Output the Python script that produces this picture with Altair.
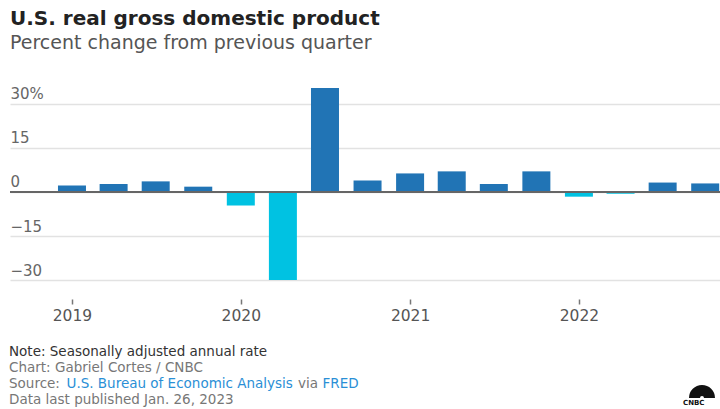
import altair as alt
import pandas as pd

# ---- data ----
quarters = ["2019-01-01", "2019-04-01", "2019-07-01", "2019-10-01",
            "2020-01-01", "2020-04-01", "2020-07-01", "2020-10-01",
            "2021-01-01", "2021-04-01", "2021-07-01", "2021-10-01",
            "2022-01-01", "2022-04-01", "2022-07-01", "2022-10-01"]
gdp_change = [2.2, 2.7, 3.6, 1.8, -4.6, -29.9, 35.3, 3.9,
              6.3, 7.0, 2.7, 7.0, -1.6, -0.6, 3.2, 2.9]
year_ticks = [2019, 2020, 2021, 2022]
y_ticks = [-30, -15, 0, 15, 30]

df = pd.DataFrame({"quarter": quarters, "gdp": gdp_change})

FONT = "DejaVu Sans"
BLUE = "#2174b5"
CYAN = "#00c2e2"
W, H = 710, 209
LEFT, TOP = 10, 86

x_enc = alt.X(
    "quarter:T",
    scale=alt.Scale(type="utc", padding=0,
                    domain=[alt.DateTime(year=2018, month=8, date=20, utc=True),
                            alt.DateTime(year=2022, month=11, date=2, utc=True)]),
    axis=alt.Axis(values=[alt.DateTime(year=y, month=1, date=1, utc=True) for y in year_ticks],
                  format="%Y", title=None, domain=False, grid=False,
                  tickColor="#777", tickSize=5, tickWidth=1.5, offset=4,
                  labelPadding=4, labelFontSize=15.5, labelColor="#555",
                  labelFont=FONT, labelFlush=False),
)
y_enc = alt.Y(
    "gdp:Q",
    scale=alt.Scale(domain=[-35, 36], nice=False, zero=False),
    axis=alt.Axis(values=y_ticks, title=None, domain=False, ticks=False,
                  labelAlign="left", labelBaseline="bottom", labelPadding=0,
                  labelOffset=-2,
                  labelExpr="datum.value == 30 ? '30%' : datum.label",
                  gridColor="#e2e2e2", gridWidth=1.5, labelFontSize=15,
                  labelColor="#666", labelFont=FONT),
)

bars = alt.Chart(df).mark_bar(size=28).encode(
    x=x_enc,
    y=y_enc,
    y2=alt.datum(0),
    color=alt.condition(alt.datum.gdp < 0, alt.value(CYAN), alt.value(BLUE)),
)

zero = alt.Chart(alt.Data(values=[{}])).mark_rule(color="#666", strokeWidth=2).encode(
    y=alt.datum(0)
)


def txt(s, x, y, size=13, color="#666", weight="normal"):
    return alt.Chart(alt.Data(values=[{}])).mark_text(
        align="left", baseline="alphabetic", font=FONT, fontSize=size,
        color=color, fontWeight=weight
    ).encode(x=alt.value(x - LEFT), y=alt.value(y - TOP), text=alt.value(s))


LINK = "#2a8fd6"
FS = 13.5
texts = [
    txt("U.S. real gross domestic product", 10, 25, size=20, color="#222", weight="bold"),
    txt("Percent change from previous quarter", 10, 49, size=19, color="#555"),
    txt("Note: Seasonally adjusted annual rate", 9, 356, size=FS, color="#333"),
    txt("Chart: Gabriel Cortes / CNBC", 9, 372, size=FS, color="#777"),
    txt("Source:", 9, 388, size=FS, color="#777"),
    txt("U.S. Bureau of Economic Analysis", 66.5, 388, size=FS, color=LINK),
    txt("via", 298, 388, size=FS, color="#777"),
    txt("FRED", 322.5, 388, size=FS, color=LINK),
    txt("Data last published Jan. 26, 2023", 9, 404, size=FS, color="#777"),
    txt("CNBC", 683, 405, size=7, color="#111", weight="bold"),
]

logo = alt.Chart(alt.Data(values=[{}])).mark_arc(
    color="#111", theta=4.71, theta2=7.85, radius=13, innerRadius=2
).encode(x=alt.value(702 - LEFT), y=alt.value(398 - TOP))

chart = alt.layer(bars, zero, *texts, logo).properties(
    width=W, height=H,
    autosize=alt.AutoSizeParams(type="none"),
    padding={"left": LEFT, "top": TOP, "right": 720 - LEFT - W, "bottom": 409 - TOP - H},
).configure_view(stroke=None)

chart.save("out.html", embed_options={"renderer": "svg", "actions": False})
